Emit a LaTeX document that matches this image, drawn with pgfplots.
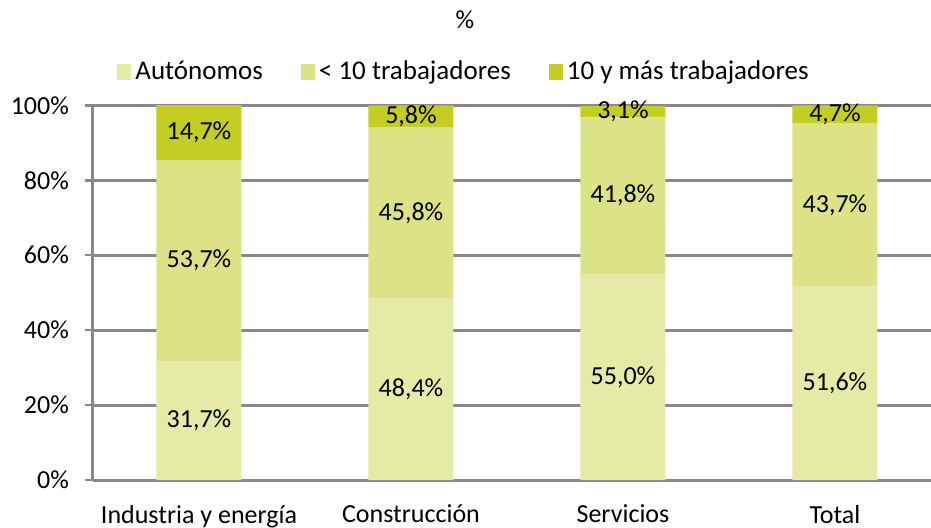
\documentclass[border=0pt]{standalone}
\usepackage{pgfplots}
\pgfplotsset{compat=1.18}
\usepackage{fontspec}
\setmainfont{Carlito}

\definecolor{cAut}{RGB}{229,234,166}
\definecolor{cMen}{RGB}{220,227,135}
\definecolor{cMas}{RGB}{195,205,35}
\definecolor{cGrid}{RGB}{136,136,140}

\begin{document}
\begin{tikzpicture}
\useasboundingbox (-46.5pt,-23.5pt) rectangle (419pt,240pt);
\clip (-46.5pt,-23.5pt) rectangle (419pt,240pt);
\begin{axis}[
    at={(0,0)}, anchor=south west,
    scale only axis,
    width=419pt, height=187.5pt,
    ybar stacked,
    bar width=42.5pt,
    xmin=-0.5, xmax=3.453,
    ymin=0, ymax=100.1,
    xtick={0,1,2,3},
    xticklabels={Industria y energía,Construcción,Servicios,Total},
    extra x ticks={-0.5,0.5,1.5,2.5},
    extra x tick labels={},
    extra x tick style={major tick length=5pt, tick style={draw=cGrid, line width=1.2pt}, grid=none},
    x tick style={draw=none},
    ytick={0,20,40,60,80,100},
    yticklabels={0\%,20\%,40\%,60\%,80\%,100\%},
    tick align=outside,
    major tick length=4pt,
    y tick style={draw=cGrid, line width=1.2pt},
    ymajorgrids=true,
    grid style={draw=cGrid, line width=1.5pt},
    axis x line*=bottom,
    axis y line*=left,
    axis line style={draw=cGrid, line width=1.5pt, -},
    tick label style={font=\fontsize{13}{15}\selectfont},
    xticklabel style={yshift=-5pt},
    yticklabel style={xshift=-4.5pt},
    legend style={at={(186pt,204pt)}, anchor=center, draw=none, fill=none,
        legend columns=3, font=\fontsize{13.5}{15}\selectfont,
        /tikz/every even column/.append style={column sep=17pt}},
    legend image code/.code={\fill[#1] (-3pt,-4pt) rectangle (4pt,4pt);},
    nodes near coords={\pgfmathprintnumber[fixed,fixed zerofill,precision=1,use comma,assume math mode=true]{\pgfplotspointmeta}\%},
    every node near coord/.append style={font=\fontsize{13}{15}\selectfont, text=black, anchor=center},
    nodes near coords align={center},
]
\addplot[fill=cAut, draw=none] coordinates {(0,31.7) (1,48.4) (2,55.0) (3,51.6)};
\addplot[fill=cMen, draw=none] coordinates {(0,53.7) (1,45.8) (2,41.8) (3,43.7)};
\addplot[fill=cMas, draw=none] coordinates {(0,14.7) (1,5.8) (2,3.1) (3,4.7)};
\legend{Autónomos,< 10 trabajadores,10 y más trabajadores}
\end{axis}
\node[font=\fontsize{13}{15}\selectfont] at (186pt,230pt) {\%};
\end{tikzpicture}
\end{document}
